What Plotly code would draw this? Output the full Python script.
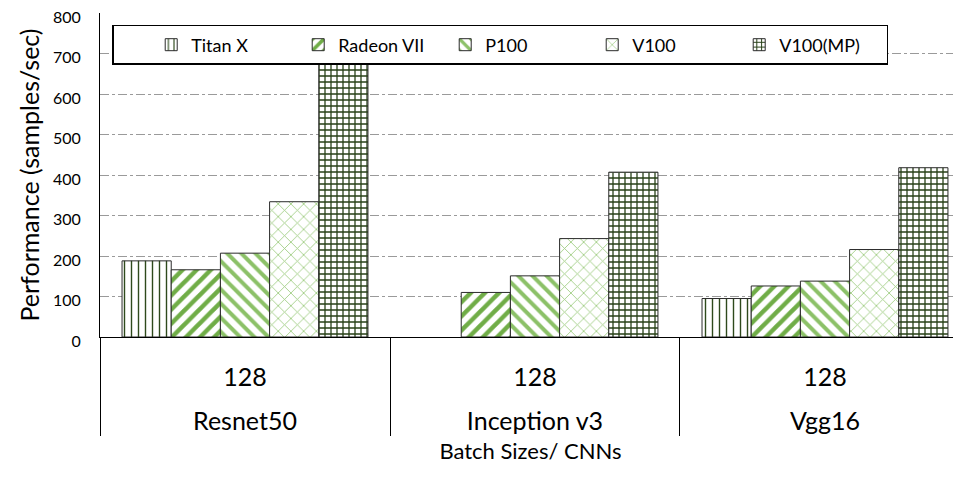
import plotly.graph_objects as go

models = ["Resnet50", "Inception v3", "Vgg16"]
batch = ["128", "128", "128"]

titan_x = [188, None, 95]
radeon_vii = [166, 110, 126]
p100 = [207, 151, 138]
v100 = [334, 243, 216]
v100_mp = [679, 407, 418]

series = [
    ("Titan X", titan_x, "|", "#2E4A1C", 7, 0.2),
    ("Radeon VII", radeon_vii, "/", "#70AD47", 10, 0.45),
    ("P100", p100, "\\", "#8CC168", 10, 0.4),
    ("V100", v100, "x", "#9CCB7E", 9, 0.18),
    ("V100(MP)", v100_mp, "+", "#263F16", 6, 0.38),
]

font = "Lato, Calibri, sans-serif"
big = "<span style='font-size:25px'>{}</span>"
outer = [big.format(m) for m in models]
inner = [big.format(b) + "<br> " for b in batch]

fig = go.Figure()
for name, vals, shape, col, size, sol in series:
    fig.add_trace(go.Bar(
        x=[outer, inner], y=vals, name=name,
        marker=dict(color="white",
                    line=dict(color="#2b2b2b", width=1),
                    pattern=dict(shape=shape, fgcolor=col, bgcolor="white", fgopacity=1,
                                 size=size, solidity=sol, fillmode="overlay")),
    ))

# page body has an 8px margin, so the figure is shrunk to fit the window
fig.update_layout(
    width=953, height=472,
    margin=dict(l=92, r=0, t=5, b=143),
    paper_bgcolor="white", plot_bgcolor="white",
    barmode="group", bargap=0.152, bargroupgap=0,
    font=dict(family=font, color="black"),
    legend=dict(orientation="h", x=0.014, y=0.963, xanchor="left", yanchor="top",
                bordercolor="black", borderwidth=1.5, bgcolor="white",
                font=dict(size=18), entrywidth=102, itemwidth=30,
                title=dict(text="&nbsp;" * 6, side="left", font=dict(size=18))),
    xaxis=dict(type="multicategory", range=[-0.5, 2.469], automargin=False,
               showline=True, linecolor="black", linewidth=1,
               showdividers=True, dividercolor="black", dividerwidth=1,
               tickfont=dict(size=24), ticklabelstandoff=19,
               title=dict(text="Batch Sizes/ CNNs", font=dict(size=22), standoff=9)),
    yaxis=dict(range=[0, 800], dtick=100, showline=True, linecolor="black",
               linewidth=1, gridcolor="#9a9a9a", griddash="dashdot", automargin=False,
               tickfont=dict(size=16), ticks="", zeroline=False, ticklabeloverflow="allow",
               ticklabelstandoff=15, ticklabelshift=4,
               title=dict(text="Performance (samples/sec)", font=dict(size=25), standoff=6)),
)

fig.write_html("out.html")
